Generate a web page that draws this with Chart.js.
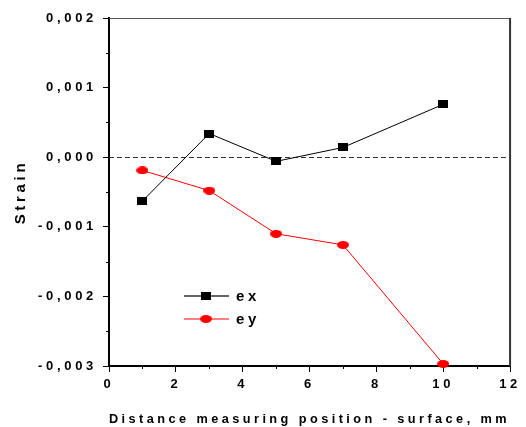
<!DOCTYPE html>
<html><head><meta charset="utf-8">
<script src="https://cdn.jsdelivr.net/npm/chart.js@4.4.1/dist/chart.umd.min.js"></script>
<style>html,body{margin:0;padding:0;background:#fff;} canvas{display:block;}</style>
</head><body>
<canvas id="c" width="526" height="427"></canvas>
<script>
// ---- data ----
const positions = [1, 3, 5, 7, 10];
const exValues = [-0.00063, 0.00034, -0.00006, 0.00014, 0.00076];
const eyValues = [-0.00019, -0.00048, -0.00110, -0.00126, -0.00297];
const seriesLabels = ['ex', 'ey'];
const xTitle = 'Distance measuring position - surface, mm';
const yTitle = 'Strain';
const xRange = [0, 12];
const yRange = [-0.003, 0.002];

const LS = '3.7px';
const FAMILY = '"Liberation Sans", Arial, sans-serif';

function marker(w, h, color, shape) {
  const c = document.createElement('canvas');
  c.width = w; c.height = h;
  const g = c.getContext('2d');
  g.fillStyle = color;
  if (shape === 'rect') g.fillRect(0, 0, w, h);
  else { g.beginPath(); g.ellipse(w / 2, h / 2, w / 2, h / 2, 0, 0, Math.PI * 2); g.fill(); }
  return c;
}
const exMarker = marker(10, 8, '#000', 'rect');
const eyMarker = marker(12, 8, '#ff0000', 'ellipse');

function fmt(v) {
  if (Math.abs(v) < 1e-10) v = 0;
  return v.toFixed(3).replace('.', ',');
}

const spacingPlugin = {
  id: 'spacing',
  beforeUpdate(chart) { chart.ctx.letterSpacing = LS; },
  beforeLayout(chart) { chart.ctx.letterSpacing = LS; },
  beforeDraw(chart) { chart.ctx.letterSpacing = LS; }
};

const framePlugin = {
  id: 'frame',
  beforeDatasetsDraw(chart) {
    const {ctx, chartArea: a, scales: {x, y}} = chart;
    ctx.save();
    // zero reference line
    const y0 = Math.round(y.getPixelForValue(0)) + 0.5;
    ctx.strokeStyle = '#333';
    ctx.lineWidth = 1;
    ctx.setLineDash([5, 3]);
    ctx.beginPath(); ctx.moveTo(a.left, y0); ctx.lineTo(a.right, y0); ctx.stroke();
    ctx.setLineDash([]);
    // top and right frame
    ctx.strokeStyle = '#555';
    ctx.lineWidth = 1.2;
    ctx.beginPath(); ctx.moveTo(a.left, a.top + 0.5); ctx.lineTo(a.right, a.top + 0.5); ctx.stroke();
    ctx.strokeStyle = '#333';
    ctx.lineWidth = 2;
    ctx.beginPath(); ctx.moveTo(a.right, a.top); ctx.lineTo(a.right, a.bottom); ctx.stroke();
    // minor ticks
    ctx.strokeStyle = '#000';
    ctx.lineWidth = 1;
    for (let v = xRange[0] + 1; v < xRange[1]; v += 2) {
      const px = Math.round(x.getPixelForValue(v)) + 0.5;
      ctx.beginPath(); ctx.moveTo(px, a.bottom); ctx.lineTo(px, a.bottom + 3); ctx.stroke();
    }
    for (let v = yRange[0] + 0.0005; v < yRange[1]; v += 0.001) {
      const py = Math.round(y.getPixelForValue(v)) + 0.5;
      ctx.beginPath(); ctx.moveTo(a.left - 3, py); ctx.lineTo(a.left, py); ctx.stroke();
    }
    ctx.restore();
  }
};

const legendPlugin = {
  id: 'innerLegend',
  afterDraw(chart) {
    const {ctx, chartArea: a} = chart;
    const ds = chart.data.datasets;
    const rows = [
      {lineColor: '#666', lineWidth: 2, img: exMarker, dy: 278},
      {lineColor: '#ff0000', lineWidth: 1, img: eyMarker, dy: 301}
    ];
    ctx.save();
    ctx.letterSpacing = LS;
    ctx.font = 'bold 15px ' + FAMILY;
    ctx.textBaseline = 'middle';
    ctx.textAlign = 'left';
    ctx.fillStyle = '#000';
    rows.forEach((r, i) => {
      const yy = a.top + r.dy;
      const x1 = a.left + 75, x2 = a.left + 120, xm = a.left + 97;
      ctx.strokeStyle = r.lineColor;
      ctx.lineWidth = r.lineWidth;
      ctx.beginPath(); ctx.moveTo(x1, yy); ctx.lineTo(x2, yy); ctx.stroke();
      ctx.drawImage(r.img, xm - r.img.width / 2, yy - r.img.height / 2);
      ctx.fillText(ds[i].label, a.left + 127, yy + 1);
    });
    ctx.restore();
  }
};

const ctx = document.getElementById('c').getContext('2d');
new Chart(ctx, {
  type: 'line',
  data: {
    datasets: [
      {
        label: seriesLabels[0],
        data: positions.map((p, i) => ({x: p, y: exValues[i]})),
        borderColor: '#000', borderWidth: 1,
        pointStyle: exMarker, pointRadius: 5, pointHoverRadius: 5,
        backgroundColor: '#000', tension: 0, clip: false
      },
      {
        label: seriesLabels[1],
        data: positions.map((p, i) => ({x: p, y: eyValues[i]})),
        borderColor: '#ff0000', borderWidth: 1,
        pointStyle: eyMarker, pointRadius: 5, pointHoverRadius: 5,
        backgroundColor: '#ff0000', tension: 0, clip: false
      }
    ]
  },
  options: {
    responsive: false,
    animation: false,
    events: [],
    layout: {padding: {left: 0, right: 11, top: 18, bottom: 0}},
    plugins: {legend: {display: false}, tooltip: {enabled: false}},
    scales: {
      x: {
        type: 'linear', min: xRange[0], max: xRange[1],
        afterFit(s) { s.height = 61; },
        border: {display: true, color: '#000', width: 2},
        grid: {drawOnChartArea: false, drawTicks: true, tickLength: 6, color: '#000', tickWidth: 1},
        ticks: {stepSize: 2, padding: 5, color: '#000', font: {family: FAMILY, size: 13, weight: 'bold'}},
        title: {display: true, text: xTitle, color: '#000', padding: {top: 0, bottom: 0},
                font: {family: FAMILY, size: 13.7, weight: 'bold'}}
      },
      y: {
        type: 'linear', min: yRange[0], max: yRange[1],
        afterFit(s) { s.width = 109; },
        border: {display: true, color: '#000', width: 2},
        grid: {drawOnChartArea: false, drawTicks: true, tickLength: 6, color: '#000', tickWidth: 1},
        ticks: {stepSize: 0.001, padding: 6, color: '#000', callback: v => fmt(v),
                font: {family: FAMILY, size: 13, weight: 'bold'}},
        title: {display: true, text: yTitle, color: '#000', padding: {top: 12, bottom: 0},
                font: {family: FAMILY, size: 15, weight: 'bold'}}
      }
    }
  },
  plugins: [spacingPlugin, framePlugin, legendPlugin]
});
</script>
</body></html>
